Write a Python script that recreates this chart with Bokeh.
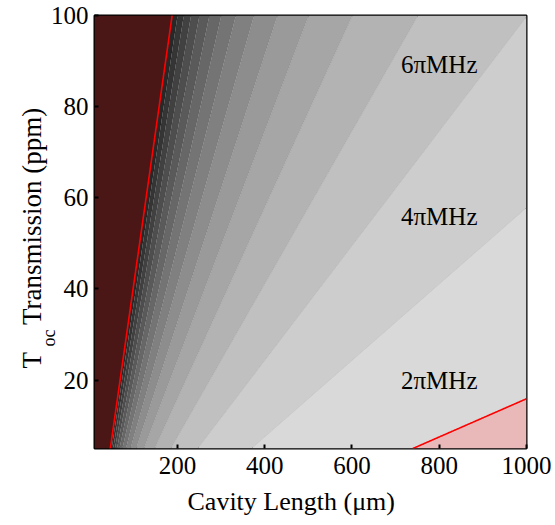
import numpy as np
from bokeh.plotting import figure
from bokeh.models import Range1d, Title, FixedTicker
from bokeh.core.properties import value
from bokeh.embed import file_html
from bokeh.resources import INLINE

# ---- data ----
C_LIGHT = 2.998e8          # m/s
EXTRA_LOSS_PPM = 26.0      # round-trip losses besides T_oc (ppm)
L_UM = np.linspace(10, 1000, 600)     # cavity length (um)
T_PPM = np.linspace(5, 100, 300)      # output-coupler transmission (ppm)

# contour levels of kappa/2pi (MHz)
LEVELS = [0.0, 1, 2, 3, 4, 5, 6, 7, 8, 9, 10, 11, 12, 13, 14, 15, 16, 1e4]
BAND_COLORS = ["#e9b9b9",
               "#d9d9d9", "#cdcdcd", "#c0c0c0", "#b3b3b3", "#a6a6a6",
               "#9a9a9a", "#8d8d8d", "#808080", "#747474", "#676767",
               "#5a5a5a", "#4e4e4e", "#414141", "#353535", "#282828",
               "#4a1616"]
X_TICKS = [200, 400, 600, 800, 1000]
Y_TICKS = [20, 40, 60, 80, 100]
REGION_TEXT = ["6\u03c0MHz", "4\u03c0MHz", "2\u03c0MHz"]
REGION_X = [800, 800, 800]
REGION_Y = [89.2, 55.8, 20.0]

# kappa/2pi in MHz = c (T + losses) / (4 pi L)
LL, TT = np.meshgrid(L_UM, T_PPM)
KAPPA = C_LIGHT * (TT + EXTRA_LOSS_PPM) * 1e-6 / (4 * np.pi * LL * 1e-6) / 1e6

FONT = "Liberation Serif"

p = figure(width=555, height=525, output_backend="svg", toolbar_location=None,
           x_range=Range1d(10, 1000), y_range=Range1d(5, 100),
           min_border_left=94, min_border_right=29, min_border_top=15, min_border_bottom=77)

n_lev = len(LEVELS)
line_colors = ["#000000"] * n_lev
line_alphas = [0.08] * n_lev
line_widths = [1.0] * n_lev
for i in (1, n_lev - 2):
    line_colors[i] = "#ff0000"
    line_alphas[i] = 1.0
    line_widths[i] = 1.6
line_alphas[0] = 0.0
line_alphas[-1] = 0.0

p.contour(L_UM, T_PPM, KAPPA, LEVELS, fill_color=BAND_COLORS,
          line_color=line_colors, line_alpha=line_alphas, line_width=line_widths)

p.text(x=REGION_X, y=REGION_Y, text=REGION_TEXT, text_align="center",
       text_baseline="middle", text_font=value(FONT), text_font_size="25px",
       text_color="#000000")

p.grid.visible = False
p.outline_line_color = "#000000"
p.outline_line_width = 2
p.outline_line_alpha = 1.0

for ax in (p.xaxis[0], p.yaxis[0]):
    ax.axis_line_color = None
    ax.major_tick_in = 4
    ax.major_tick_out = 0
    ax.major_tick_line_width = 2
    ax.minor_tick_line_color = None
    ax.major_label_text_font = FONT
    ax.major_label_text_font_size = "25px"
    ax.major_label_text_color = "#000000"
p.xaxis[0].ticker = FixedTicker(ticks=X_TICKS)
p.yaxis[0].ticker = FixedTicker(ticks=Y_TICKS)
p.xaxis[0].major_label_standoff = 8
p.yaxis[0].major_label_standoff = 6

# axis titles
def title(text, size, place, align="center", offset=0, standoff=0, valign="bottom"):
    t = Title(text=text, align=align, offset=offset, standoff=standoff,
              vertical_align=valign,
              text_font=FONT, text_font_size=size, text_font_style="normal",
              text_color="#000000")
    p.add_layout(t, place)

title("Cavity Length (\u03bcm)", "26px", "below", "left", 93, 17)
title("oc", "18px", "left", "left", 102, -23)
title("T\u2003Transmission (ppm)", "27px", "left", "left", 80, 0, "middle")

open("out.html", "w").write(file_html(p, INLINE))
